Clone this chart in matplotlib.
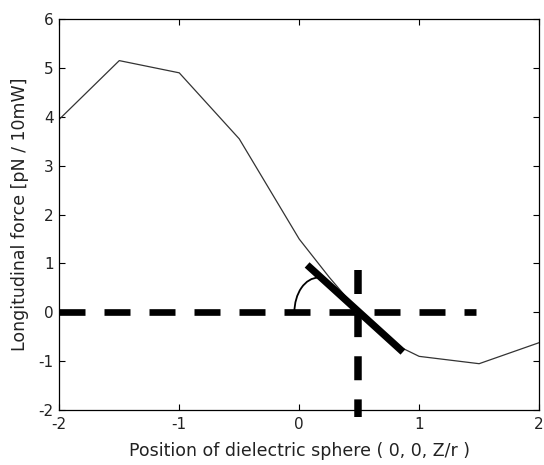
import numpy as np
import matplotlib
matplotlib.use("Agg")
import matplotlib.pyplot as plt
from matplotlib.patches import Arc

plt.rcParams['font.family'] = ['DejaVu Sans']
plt.rcParams['axes.unicode_minus'] = False

x = [-2.0, -1.5, -1.0, -0.5, 0.0, 0.25, 0.5, 0.75, 1.0, 1.5, 2.0]
force = [3.95, 5.15, 4.9, 3.55, 1.5, 0.72, 0.0, -0.6, -0.9, -1.05, -0.62]

xticks = [-2, -1, 0, 1, 2]
yticks = [-2, -1, 0, 1, 2, 3, 4, 5, 6]

tangent_x = [0.066, 0.865]
tangent_y = [0.97, -0.81]
hline_x = [-2.0, 1.475]
vline_y = [0.86, -2.14]
cross_x = 0.49

fig = plt.figure(figsize=(5.44, 4.65), dpi=100)
ax = fig.add_axes([0.109, 0.118, 0.882, 0.841])

ax.plot(x, force, color='#333333', lw=0.9)
ax.plot(hline_x, [0, 0], color='black', lw=4.8, dashes=(3.9, 2.85), dash_capstyle='butt')
ax.plot([cross_x, cross_x], vline_y, color='black', lw=5.4, dashes=(3.2, 2.55),
        dash_capstyle='butt', clip_on=False)
ax.plot(tangent_x, tangent_y, color='black', lw=5.2, solid_capstyle='butt')
ax.add_patch(Arc((0.16, 0.0), 2 * 0.2, 2 * 0.71, theta1=90, theta2=180, color='black', lw=1.3))

ax.set_xlim(-2, 2)
ax.set_ylim(-2, 6)
ax.set_xticks(xticks)
ax.set_yticks(yticks)
ax.tick_params(direction='in', top=True, right=True, length=4, labelsize=11, pad=5,
               labelcolor='#222222')
ax.tick_params(axis='y', pad=4)
for s in ax.spines.values():
    s.set_linewidth(0.9)
ax.set_xlabel('Position of dielectric sphere ( 0, 0, Z/r )', fontsize=12.5, labelpad=7,
              color='#222222')
ax.set_ylabel('Longitudinal force [pN / 10mW]', fontsize=12.5, labelpad=7,
              color='#222222')

fig.savefig('out.png', dpi=100)
